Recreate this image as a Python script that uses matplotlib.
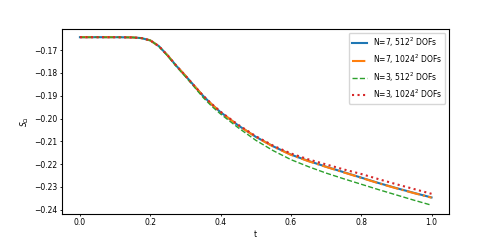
import matplotlib
matplotlib.use("Agg")
import matplotlib.pyplot as plt

plt.rcParams.update({
    "font.size": 5.5,
    "xtick.major.size": 1.75,
    "ytick.major.size": 1.75,
    "xtick.major.pad": 1.75,
    "ytick.major.pad": 1.75,
    "xtick.major.width": 0.6,
    "ytick.major.width": 0.6,
    "axes.labelpad": 2.0,
    "axes.linewidth": 0.8,
})

t = [0.0, 0.05, 0.1, 0.15, 0.175, 0.2, 0.225, 0.25, 0.275, 0.3, 0.325, 0.35, 0.375, 0.4,
     0.45, 0.5, 0.55, 0.6, 0.65, 0.7, 0.75, 0.8, 0.85, 0.9, 0.95, 1.0]

s_n7_512 = [-0.1643, -0.1643, -0.1643, -0.1644, -0.1647, -0.1657, -0.1683, -0.1724, -0.1770,
            -0.1812, -0.1856, -0.1900, -0.1938, -0.1972,
            -0.2030, -0.2080, -0.2122, -0.2158, -0.2186, -0.2211, -0.2235, -0.2259, -0.2283,
            -0.2305, -0.2326, -0.2346]
s_n7_1024 = [-0.1643, -0.1643, -0.1643, -0.1644, -0.1647, -0.1657, -0.1683, -0.1724, -0.1770,
             -0.1812, -0.1856, -0.1900, -0.1938, -0.1972,
             -0.2030, -0.2080, -0.2123, -0.2159, -0.2187, -0.2212, -0.2236, -0.2260, -0.2284,
             -0.2306, -0.2327, -0.2347]
s_n3_512 = [-0.1643, -0.1643, -0.1643, -0.1644, -0.1647, -0.1657, -0.1684, -0.1726, -0.1773,
            -0.1816, -0.1861, -0.1907, -0.1946, -0.1980,
            -0.2040, -0.2095, -0.2141, -0.2180, -0.2211, -0.2239, -0.2264, -0.2288, -0.2312,
            -0.2335, -0.2358, -0.2380]
s_n3_1024 = [-0.1643, -0.1643, -0.1643, -0.1644, -0.1647, -0.1657, -0.1683, -0.1724, -0.1770,
             -0.1812, -0.1856, -0.1899, -0.1936, -0.1970,
             -0.2027, -0.2077, -0.2119, -0.2153, -0.2179, -0.2201, -0.2223, -0.2243, -0.2266,
             -0.2288, -0.2309, -0.2330]

labels = [r"N=7, 512$^2$ DOFs", r"N=7, 1024$^2$ DOFs", r"N=3, 512$^2$ DOFs", r"N=3, 1024$^2$ DOFs"]

fig, ax = plt.subplots(figsize=(4.99, 2.4), dpi=100)
ax.plot(t, s_n7_512, color="C0", linestyle="-", linewidth=1.5, label=labels[0])
ax.plot(t, s_n7_1024, color="C1", linestyle="-.", linewidth=1.5, label=labels[1])
ax.plot(t, s_n3_512, color="C2", linestyle="--", linewidth=1.0, label=labels[2])
ax.plot(t, s_n3_1024, color="C3", linestyle=":", linewidth=1.5, label=labels[3])
ax.set_xlabel("t")
ax.set_ylabel(r"$S_\Omega$")
ax.legend(loc="upper right")
fig.savefig("out.png", dpi=100)
